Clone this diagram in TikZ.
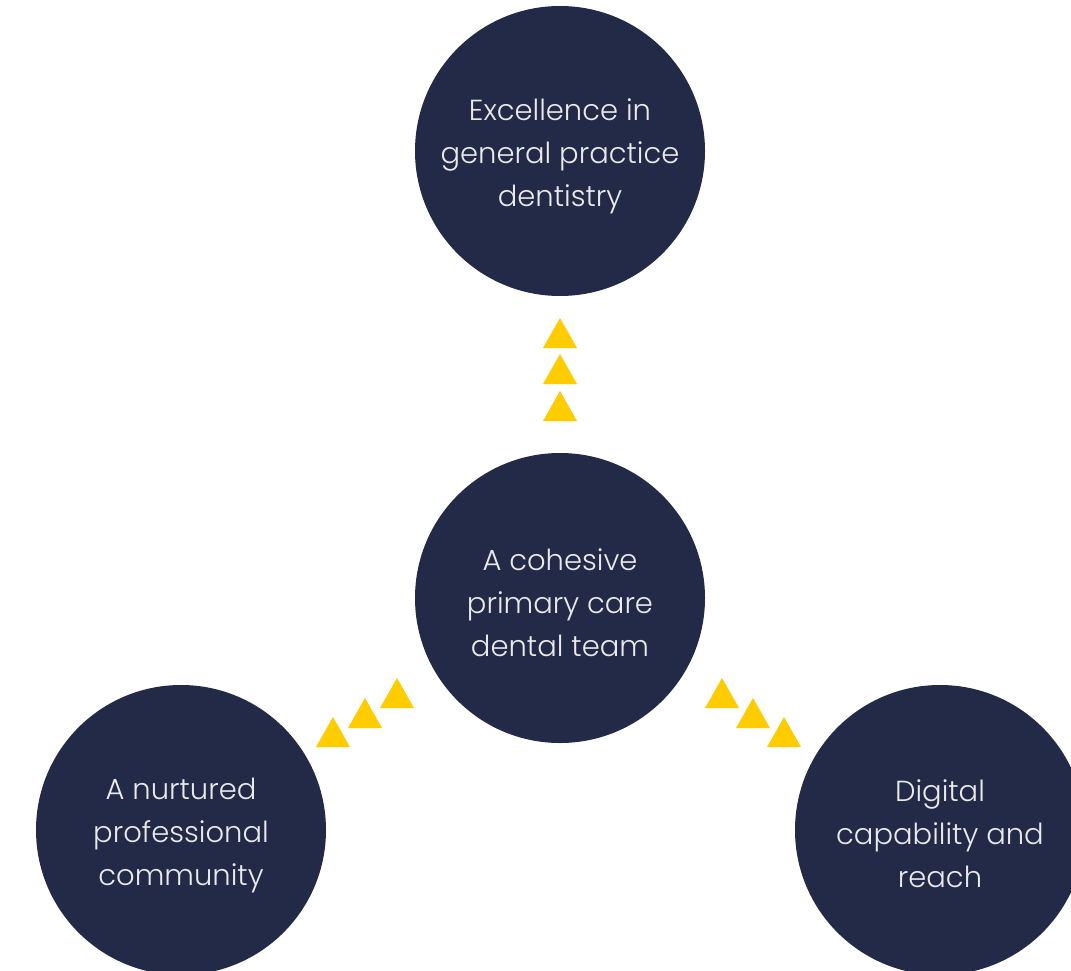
\documentclass[tikz,border=0pt]{standalone}
\usepackage{fontspec}
\setmainfont{Poppins}[UprightFont=* Light]
\definecolor{navy}{HTML}{222A47}
\definecolor{gold}{HTML}{FFCC00}
\definecolor{txt}{HTML}{EAEAEA}
\begin{document}
\begin{tikzpicture}[x=1pt,y=-1pt,
  bubble/.style={circle,fill=navy,draw=none,minimum size=290pt,inner sep=0pt},
  bubbletext/.style={text=txt,align=center,inner sep=0pt,
    font=\fontsize{29}{43}\selectfont},
  tri/.style={fill=gold,draw=none}]
\useasboundingbox (0,0) rectangle (1071,971);
\fill[white] (0,0) rectangle (1071,971);
\node[bubble] (top) at (560,151) {};
\node[bubble] (mid) at (560,598) {};
\node[bubble] (left) at (181,830) {};
\node[bubble] (right) at (940,830) {};
\node[bubbletext] (toptext) at ([yshift=-5pt]top.center) {Excellence in\\general practice\\dentistry};
\node[bubbletext] (midtext) at ([yshift=-5pt]mid.center) {A cohesive\\primary care\\dental team};
\node[bubbletext] (lefttext) at ([yshift=-5pt]left.center) {A nurtured\\professional\\community};
\node[bubbletext] (righttext) at ([yshift=-4pt]right.center) {Digital\\capability and\\reach};
% triangles: apex (x,y), width 34, height 30
\foreach \x/\y in {560/318, 560/354, 560/391,
                   333/717, 365/698, 397/678,
                   722/678, 753/698, 784/717}
  \fill[tri] (\x,\y) -- (\x+17,\y+30) -- (\x-17,\y+30) -- cycle;
\end{tikzpicture}
\end{document}
